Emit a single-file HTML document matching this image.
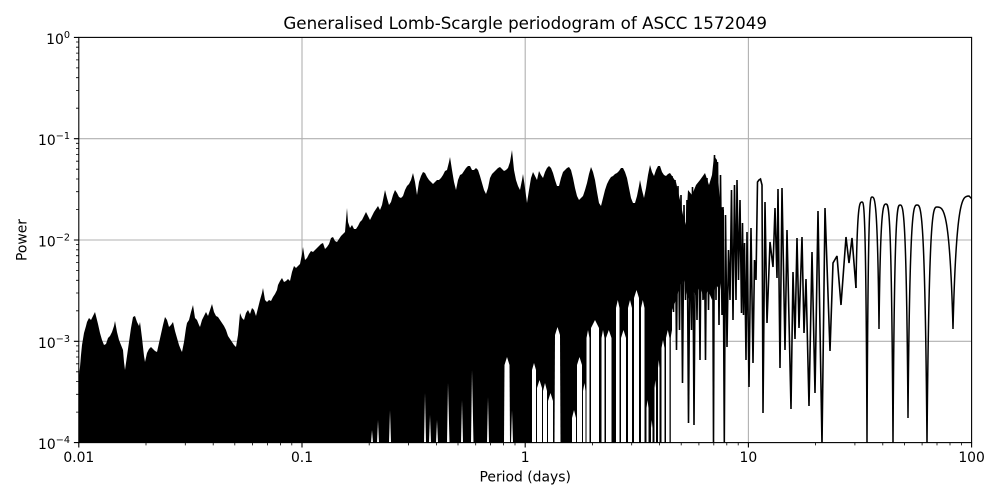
<!DOCTYPE html>
<html>
<head>
<meta charset="utf-8">
<style>
  html,body{margin:0;padding:0;background:#fff;}
  svg{display:block;}
  text{font-family:"DejaVu Sans","Liberation Sans",sans-serif;fill:#000;}
</style>
</head>
<body>
<svg width="1000" height="500" viewBox="0 0 1000 500" xmlns="http://www.w3.org/2000/svg">
  <defs>
    <clipPath id="ax"><rect x="78.8" y="37.4" width="892.8" height="405.2"/></clipPath>
  </defs>
  <rect x="0" y="0" width="1000" height="500" fill="#fff"/>

  <!-- grid -->
  <g stroke="#b0b0b0" stroke-width="1.1" fill="none">
    <path d="M302 37.4V442.6M525.2 37.4V442.6M748.4 37.4V442.6"/>
    <path d="M78.8 138.7H971.6M78.8 240H971.6M78.8 341.3H971.6"/>
  </g>

  <g clip-path="url(#ax)">
    <!-- dense solid region -->
    <polygon fill="#000" points="79,442.6 79,375 80,367 81,355 82,345 84,333 86,326 87,322 89,318 91,320 93,316 95,312 96,316 98,324 100,333 102,340 104,345 106,344 108,338 110,336 112,332 114,326 115,321 117,332 119,340 121,345 123,350 124,362 125,370 127,356 129,342 131,328 133,317 135,316 137,322 139,326 140,322 142,338 144,356 145,362 147,353 149,349 151,347 153,349 155,351 157,352 159,343 161,334 163,325 165,317 167,320 169,327 171,325 173,322 175,331 177,338 179,345 181,350 182,352 184,342 186,328 187,323 189,320 191,312 193,305 195,318 197,320 199,325 200,327 202,320 204,316 206,312 208,316 210,310 212,304 214,312 216,316 218,317 220,320 222,323 224,326 226,330 228,336 230,339 232,342 234,345 236,347 238,335 240,313 242,318 244,320 246,313 248,310 250,314 252,308 254,310 256,316 258,308 260,300 262,293 263,288 265,300 267,302 269,300 271,301 273,297 275,294 277,290 278,285 280,281 282,278 284,282 286,281 288,279 290,281 292,272 294,266 296,268 298,266 300,264 302,254 303,247 305,260 307,258 309,254 311,251 313,252 315,250 317,248 319,246 321,244 323,243 325,249 327,247 329,244 331,238 333,237 335,241 337,242 339,239 341,236 343,234 345,232 346,220 347,208 348,222 350,228 352,225 354,229 356,229 358,226 360,222 362,220 364,216 366,212 368,216 370,220 372,216 374,212 376,209 378,206 380,210 382,205 384,195 385,190 387,198 389,205 391,202 393,195 395,190 397,193 399,197 401,198 403,196 405,190 407,186 409,184 411,180 413,173 415,182 417,195 419,182 421,176 423,172 425,173 427,177 429,180 431,182 433,184 435,182 437,180 439,180 441,178 443,175 445,171 447,170 449,162 450,157 452,170 454,182 456,190 458,180 460,175 462,174 464,171 466,168 468,166 470,166 472,170 474,170 476,168 478,170 480,176 482,183 484,190 486,194 488,188 490,178 492,174 494,172 496,170 498,168 500,167 502,169 504,171 506,170 508,168 510,162 512,150 514,170 516,180 518,186 520,190 522,180 523,174 525,188 527,203 529,190 531,178 533,172 535,176 537,180 539,171 541,175 543,178 545,172 547,168 549,166 551,168 553,173 555,180 557,186 559,186 561,178 563,172 565,170 567,168 569,167 571,170 573,178 575,188 577,196 579,200 581,198 583,196 585,190 587,183 589,174 591,167 593,172 595,180 597,192 599,203 601,206 603,198 605,190 607,184 609,180 611,177 613,176 615,174 617,173 619,171 621,168 623,168 625,172 627,178 629,188 631,198 633,203 635,203 637,196 639,186 640,180 642,190 644,198 646,188 648,175 650,165 652,172 654,176 656,170 658,166 660,166 662,172 664,175 666,176 668,174 670,173 672,176 672,442.6"/>

    <!-- solid core for 672-724 -->
    <polygon fill="#000" points="672,176 676,182 680,200 683,215 686,225 688,190 692,195 696,185 700,180 705,173 709,185 712,175 714,156 717,160 720,205 724,210 724,262 720,290 716,285 712,300 708,290 704,300 700,285 696,295 692,290 688,300 684,280 680,285 676,300 672,310"/>

    <!-- white gaps at the bottom -->
    <g fill="#fff">
      <polygon points="371,443 372,430 373,443"/>
      <polygon points="377,443 378,420 379,443"/>
      <polygon points="389,443 390,410 391,443"/>
      <polygon points="424,443 425,393 426,443"/>
      <polygon points="429,443 430,415 431,443"/>
      <polygon points="436,443 437,420 438,443"/>
      <polygon points="447,443 448,383 449.5,443"/>
      <polygon points="461,443 462,400 463,443"/>
      <polygon points="471,443 472,370 473.5,443"/>
      <polygon points="487,443 488,397 489,443"/>
      <polygon points="504,443 504.5,365 507,357 509.5,365 510,443"/>
      <polygon points="511,443 512,410 513,443"/>
      <polygon points="532,443 532,370 534,363 536,370 536,443"/>
      <polygon points="537,443 537,388 539.5,380 542,388 542,443"/>
      <polygon points="543,443 543,391 545,383 547,391 547,443"/>
      <polygon points="548,443 548,401 550.5,393 553,401 553,443"/>
      <polygon points="554.5,443 555,335 557.5,327 560,335 560.5,443"/>
      <polygon points="572,443 572,418 574,410 576,418 576,443"/>
      <polygon points="577,443 577,365 579.5,357 582,365 582,443"/>
      <polygon points="583,443 583,391 584.5,383 585.5,391 585.5,443"/>
      <polygon points="586.5,443 586.5,338 588,330 589.5,338 589.5,443"/>
      <polygon points="591,443 591,328 595,320 599,328 599,443"/>
      <polygon points="601.5,443 601.5,338 603,330 604.5,338 604.5,443"/>
      <polygon points="606,443 606,338 608.8,330 611.5,338 611.5,443"/>
      <polygon points="616,443 616,308 617.8,300 619.5,308 619.5,443"/>
      <polygon points="621,443 621,338 623.5,330 626,338 626,443"/>
      <polygon points="628,443 628,308 630,300 632,308 632,443"/>
      <polygon points="634,443 634,298 636.5,290 639,298 639,443"/>
      <polygon points="641,443 641,308 642.8,300 644.5,308 644.5,443"/>
      <polygon points="646.5,443 646.5,408 647.5,400 648.5,408 648.5,443"/>
      <polygon points="651,443 651,428 651.8,420 652.5,428 652.5,443"/>
      <polygon points="654.5,443 654.5,388 655.3,380 656,388 656,443"/>
      <polygon points="658,443 658,368 658.8,360 659.5,368 659.5,443"/>
      <polygon points="661.5,443 661.5,348 663,340 664.5,348 664.5,443"/>
      <polygon points="666,443 666,338 667.8,330 669.5,338 669.5,443"/>
      <polygon points="670.8,443 670.8,338 671.5,330 672.2,338 672.2,443"/>
    </g>

    <!-- oscillating line, mid/right part -->
    <polyline fill="none" stroke="#000" stroke-width="1.6" stroke-linejoin="miter" stroke-miterlimit="2"
      points="672,176 673.5,312 675,180 676.5,350 678,186 679.5,330 681,195 682.5,383 684,205 685.5,300 687,200 688.5,423 690,230 691.5,330 692.5,187 694,425 695.5,215 697,320 698.5,200 700,360 701.5,190 703,300 704,180 705.5,360 707,178 708.5,310 710,200 711.5,290 712.5,185 713.5,442 714.5,155 716,300 717.5,162 719,325 720.5,175 722,315 723,207 724.3,442 725.5,215 727,347 728.5,250 730,300 731.5,190 733,320 734.5,185 736,300 737,180 738.5,280 740,200 741.5,313 742.5,223 743.5,315 744.5,243 746,360 747,232 749,387 751,228 753,363 754.5,260 756,280 757.5,182 759,180 760.5,179 762,185 763,413 765,202 767,323 770,242 773,267 775,208 777,278 778,189 780,368 782,188 785,350 787,230 791,409 793,272 795,339 797,238 799,328 802,237 804,333 806,279 809,406 812,252 815,393 818,211 822,445 825,208 830,351 833,263 837,256 841,305 846,237 849,263 852,238 856,288"/>
    <path fill="none" stroke="#000" stroke-width="1.5"
      d="M856 288 C857.2 202 859.6 202 862 202 C864 202 866 202 867 446 C868 197 870 197 872 197 C874.8 197 877.6 197 879 329 C880.4 204 883.2 204 886 204 C888.8 204 891.6 204 893 446 C894.4 205 897.2 205 900 205 C903.2 205 906.4 205 908 418 C909.8 205 913.4 205 917 205 C921 205 925 205 927 446 C929 207 933 207 937 207 C943.4 207 949.8 207 953 329 C956.2 196 962.6 196 969 196 L973 200"/>
  </g>

  <!-- spines -->
  <rect x="78.8" y="37.4" width="892.8" height="405.2" fill="none" stroke="#000" stroke-width="1.1"/>

  <!-- ticks -->
  <g stroke="#000" stroke-width="1.1" fill="none">
    <path d="M78.8 442.6v4.9M302 442.6v4.9M525.2 442.6v4.9M748.4 442.6v4.9M971.6 442.6v4.9"/>
    <path stroke-width="0.8" d="M146 442.6v2.8M185.3 442.6v2.8M213.2 442.6v2.8M234.8 442.6v2.8M252.5 442.6v2.8M267.4 442.6v2.8M280.4 442.6v2.8M291.8 442.6v2.8M369.2 442.6v2.8M408.5 442.6v2.8M436.4 442.6v2.8M458 442.6v2.8M475.7 442.6v2.8M490.6 442.6v2.8M503.6 442.6v2.8M515 442.6v2.8M592.4 442.6v2.8M631.7 442.6v2.8M659.6 442.6v2.8M681.2 442.6v2.8M698.9 442.6v2.8M713.8 442.6v2.8M726.8 442.6v2.8M738.2 442.6v2.8M815.6 442.6v2.8M854.9 442.6v2.8M882.8 442.6v2.8M904.4 442.6v2.8M922.1 442.6v2.8M937 442.6v2.8M950 442.6v2.8M961.4 442.6v2.8"/>
    <path d="M78.8 37.4h-4.9M78.8 138.7h-4.9M78.8 240h-4.9M78.8 341.3h-4.9M78.8 442.6h-4.9"/>
    <path stroke-width="0.8" d="M78.8 412.1h-2.8M78.8 394.3h-2.8M78.8 381.6h-2.8M78.8 371.8h-2.8M78.8 363.8h-2.8M78.8 357h-2.8M78.8 351.1h-2.8M78.8 345.9h-2.8M78.8 310.8h-2.8M78.8 293h-2.8M78.8 280.3h-2.8M78.8 270.5h-2.8M78.8 262.5h-2.8M78.8 255.7h-2.8M78.8 249.8h-2.8M78.8 244.6h-2.8M78.8 209.5h-2.8M78.8 191.7h-2.8M78.8 179h-2.8M78.8 169.2h-2.8M78.8 161.2h-2.8M78.8 154.4h-2.8M78.8 148.5h-2.8M78.8 143.3h-2.8M78.8 108.2h-2.8M78.8 90.4h-2.8M78.8 77.7h-2.8M78.8 67.9h-2.8M78.8 59.9h-2.8M78.8 53.1h-2.8M78.8 47.2h-2.8M78.8 42h-2.8"/>
  </g>

  <!-- x tick labels -->
  <g font-size="13.9" text-anchor="middle">
    <text x="78.8" y="462">0.01</text>
    <text x="302" y="462">0.1</text>
    <text x="525.2" y="462">1</text>
    <text x="748.4" y="462">10</text>
    <text x="971.6" y="462">100</text>
  </g>

  <!-- y tick labels -->
  <g font-size="13.9" text-anchor="end">
    <text x="70" y="44">10<tspan dy="-6" font-size="9.7">0</tspan></text>
    <text x="70" y="145.2">10<tspan dy="-6" font-size="9.7">−1</tspan></text>
    <text x="70" y="246.5">10<tspan dy="-6" font-size="9.7">−2</tspan></text>
    <text x="70" y="347.8">10<tspan dy="-6" font-size="9.7">−3</tspan></text>
    <text x="70" y="449.1">10<tspan dy="-6" font-size="9.7">−4</tspan></text>
  </g>

  <!-- axis labels and title -->
  <text x="525.2" y="481.5" font-size="13.9" text-anchor="middle">Period (days)</text>
  <text transform="translate(26.5,240) rotate(-90)" font-size="13.9" text-anchor="middle">Power</text>
  <text x="525.2" y="29" font-size="16.7" text-anchor="middle">Generalised Lomb-Scargle periodogram of ASCC 1572049</text>
</svg>
</body>
</html>
